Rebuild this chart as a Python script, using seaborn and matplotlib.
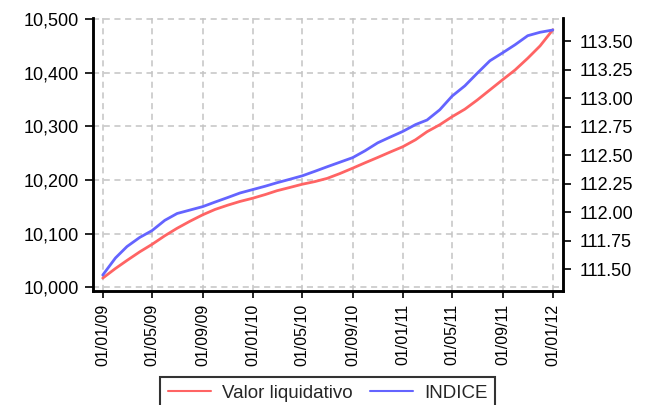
import matplotlib
matplotlib.use("Agg")
import matplotlib.pyplot as plt
import matplotlib.dates as mdates
from matplotlib.lines import Line2D
from matplotlib.ticker import FuncFormatter, MultipleLocator
import seaborn as sns
import pandas as pd

# monthly values, 01/2009 .. 01/2012
fechas = pd.date_range("2009-01-01", "2012-01-01", freq="MS")
valor_liquidativo = [10017, 10035, 10050, 10066, 10080, 10096, 10110, 10123, 10135,
                     10145, 10153, 10160, 10166, 10173, 10180, 10186, 10192, 10197,
                     10203, 10212, 10222, 10232, 10242, 10252, 10262, 10275, 10290,
                     10303, 10318, 10332, 10349, 10368, 10387, 10405, 10427, 10450,
                     10480]
indice = [111.45, 111.60, 111.70, 111.78, 111.84, 111.93, 111.99, 112.02, 112.05,
          112.09, 112.13, 112.17, 112.20, 112.23, 112.26, 112.29, 112.32, 112.36,
          112.40, 112.44, 112.48, 112.54, 112.61, 112.66, 112.71, 112.77, 112.81,
          112.90, 113.02, 113.11, 113.22, 113.33, 113.40, 113.47, 113.55, 113.58,
          113.60]

df = pd.DataFrame({"fecha": fechas, "valor": valor_liquidativo, "indice": indice})

red = "#ff6464"
blue = "#6464ff"

sns.set_style("white")
plt.rcParams['font.family'] = ['Liberation Sans', 'DejaVu Sans']

fig = plt.figure(figsize=(6.45, 4.05), dpi=100)
ax = fig.add_axes([0.144, 0.2815, 0.729, 0.674])
ax2 = ax.twinx()

sns.lineplot(data=df, x="fecha", y="valor", color=red, linewidth=2, ax=ax)
sns.lineplot(data=df, x="fecha", y="indice", color=blue, linewidth=2, ax=ax2)

ax.set_xlim(pd.Timestamp("2008-12-08"), pd.Timestamp("2012-01-26"))
ax.set_ylim(9993, 10502)
ax2.set_ylim(111.31, 113.705)

ax.xaxis.set_major_locator(mdates.MonthLocator(bymonth=[1, 5, 9]))
ax.xaxis.set_major_formatter(mdates.DateFormatter("%d/%m/%y"))
ax.yaxis.set_major_locator(MultipleLocator(100))
ax.yaxis.set_major_formatter(FuncFormatter(lambda v, p: f"{v:,.0f}"))
ax2.yaxis.set_major_locator(MultipleLocator(0.25))
ax2.yaxis.set_major_formatter(FuncFormatter(lambda v, p: f"{v:.2f}"))

ax.grid(True, color="#c4c4c4", linestyle=(0, (4, 3)), linewidth=1.1)
ax.set_xlabel("")
ax.set_ylabel("")
ax2.set_ylabel("")

for a in (ax, ax2):
    a.spines["top"].set_visible(False)
    for s in ("left", "right", "bottom"):
        a.spines[s].set_color("black")
        a.spines[s].set_linewidth(1.8)

ax.tick_params(axis="x", direction="out", length=5, width=1.2, labelsize=11.5,
               colors="black", pad=4, bottom=True)
ax.tick_params(axis="y", direction="out", length=6, width=1.2, labelsize=13,
               colors="black", pad=4, left=True)
ax2.tick_params(axis="y", direction="out", length=6, width=1.2, labelsize=13,
                colors="black", pad=6, right=True)
for lab in ax.get_xticklabels():
    lab.set_rotation(90)
    lab.set_va("top")
    lab.set_ha("center")

handles = [Line2D([], [], color=red, linewidth=1.5),
           Line2D([], [], color=blue, linewidth=1.5)]
leg = fig.legend(handles, ["Valor liquidativo", "INDICE"], loc="upper center",
                 bbox_to_anchor=(0.508, 0.069), ncol=2, frameon=True, fancybox=False,
                 fontsize=13.5, handlelength=2.3, handletextpad=0.6,
                 columnspacing=0.9, borderpad=0.4, borderaxespad=0)
leg.get_frame().set_edgecolor("black")
leg.get_frame().set_linewidth(1.5)

fig.savefig("out.png", dpi=100)
